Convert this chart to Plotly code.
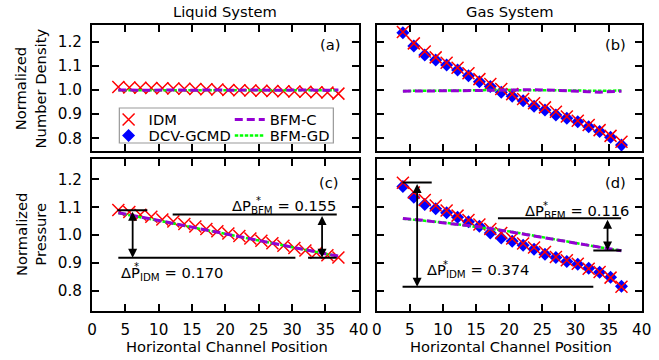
import plotly.graph_objects as go

# ---------------- data ----------------
x_pos = [3.95, 5.60, 7.25, 8.90, 10.55, 12.20, 13.85, 15.50, 17.15, 18.80, 20.45,
         22.10, 23.75, 25.40, 27.05, 28.70, 30.35, 32.00, 33.65, 35.30, 36.95]

# Liquid system – normalized number density
liq_dens_idm = [1.012, 1.010, 1.009, 1.008, 1.007, 1.006, 1.005, 1.004, 1.003, 1.002, 1.000,
                0.999, 0.998, 0.997, 0.996, 0.995, 0.994, 0.993, 0.991, 0.990, 0.985]
liq_dens_bfmc = [1.000, 0.999, 1.000, 0.999, 1.000, 0.999, 1.000, 0.999, 1.000, 0.999, 1.000,
                 0.999, 1.000, 0.999, 1.000, 0.999, 1.000, 0.999, 1.000, 0.999, 1.000]
liq_dens_bfmgd = [0.999, 0.999, 0.999, 0.999, 0.999, 0.999, 0.999, 0.999, 0.999, 0.999, 0.999,
                  0.999, 0.999, 0.999, 0.999, 0.999, 0.999, 0.999, 0.999, 0.999, 0.999]

# Gas system – normalized number density
gas_dens_idm = [1.240, 1.193, 1.159, 1.135, 1.113, 1.092, 1.069, 1.045, 1.025, 1.004, 0.983,
                0.963, 0.945, 0.928, 0.910, 0.890, 0.873, 0.855, 0.834, 0.810, 0.786]
gas_dens_dcv = [1.237, 1.182, 1.145, 1.124, 1.103, 1.083, 1.059, 1.034, 1.014, 0.991, 0.974,
                0.955, 0.933, 0.917, 0.896, 0.883, 0.869, 0.848, 0.828, 0.804, 0.772]
gas_dens_bfmc = [0.995, 0.995, 0.996, 0.996, 0.996, 0.997, 0.997, 0.998, 0.999, 1.000, 1.001,
                 1.002, 1.001, 1.000, 0.999, 0.998, 0.996, 0.993, 0.991, 0.993, 0.995]
gas_dens_bfmgd = [0.996, 0.996, 0.997, 0.997, 0.997, 0.998, 0.998, 0.999, 1.000, 1.000, 1.001,
                  1.001, 1.001, 1.000, 1.000, 0.999, 0.998, 0.997, 0.996, 0.997, 0.998]

# Liquid system – normalized pressure
liq_pres_idm = [1.090, 1.083, 1.073, 1.066, 1.056, 1.049, 1.040, 1.031, 1.022, 1.014, 1.006,
                0.997, 0.988, 0.980, 0.971, 0.962, 0.954, 0.945, 0.937, 0.928, 0.920]
liq_pres_bfmc = [1.080, 1.073, 1.065, 1.057, 1.050, 1.042, 1.034, 1.026, 1.018, 1.011, 1.003,
                 0.995, 0.987, 0.979, 0.971, 0.963, 0.956, 0.948, 0.940, 0.932, 0.925]
liq_pres_bfmgd = [1.079, 1.072, 1.065, 1.057, 1.049, 1.042, 1.034, 1.026, 1.018, 1.010, 1.003,
                  0.995, 0.987, 0.979, 0.971, 0.964, 0.956, 0.948, 0.940, 0.932, 0.924]

# Gas system – normalized pressure
gas_pres_idm = [1.188, 1.153, 1.126, 1.106, 1.088, 1.070, 1.054, 1.038, 1.022, 1.008, 0.988,
                0.970, 0.956, 0.940, 0.922, 0.910, 0.898, 0.880, 0.868, 0.848, 0.815]
gas_pres_dcv = [1.174, 1.136, 1.110, 1.095, 1.080, 1.064, 1.048, 1.032, 1.008, 0.990, 0.978,
                0.964, 0.950, 0.932, 0.920, 0.906, 0.896, 0.882, 0.867, 0.849, 0.817]
gas_pres_bfmc = [1.060, 1.057, 1.053, 1.047, 1.043, 1.039, 1.035, 1.030, 1.024, 1.018, 1.011,
                 1.004, 0.997, 0.991, 0.984, 0.977, 0.970, 0.963, 0.956, 0.950, 0.944]
gas_pres_bfmgd = [1.059, 1.056, 1.052, 1.048, 1.044, 1.039, 1.034, 1.029, 1.024, 1.018, 1.012,
                  1.005, 0.998, 0.991, 0.984, 0.977, 0.970, 0.963, 0.956, 0.950, 0.945]

# pressure-drop annotations
dp_liq_idm, dp_liq_bfm = 0.170, 0.155
dp_gas_idm, dp_gas_bfm = 0.374, 0.116

x_ticks = [0, 5, 10, 15, 20, 25, 30, 35, 40]
y_ticks = [0.8, 0.9, 1.0, 1.1, 1.2]

# ---------------- styling ----------------
W, H = 659, 360
FONT = "DejaVu Sans"
FS = 14.7
TFS = 15.2
RED, BLUE, PURPLE, GREEN = "#ff0000", "#0000ff", "#9400d3", "#00ff00"


def px(v):
    return v / W


def py(v):
    return 1 - v / H


fig = go.Figure()

panels = [
    ("x", "y", liq_dens_idm, None, liq_dens_bfmc, liq_dens_bfmgd),
    ("x2", "y2", gas_dens_idm, gas_dens_dcv, gas_dens_bfmc, gas_dens_bfmgd),
    ("x3", "y3", liq_pres_idm, None, liq_pres_bfmc, liq_pres_bfmgd),
    ("x4", "y4", gas_pres_idm, gas_pres_dcv, gas_pres_bfmc, gas_pres_bfmgd),
]

for i, (xa, ya, idm, dcv, bc, bg) in enumerate(panels):
    if dcv is not None:
        fig.add_trace(go.Scatter(x=x_pos, y=dcv, xaxis=xa, yaxis=ya, mode="markers", name="DCV-GCMD",
                                 marker=dict(symbol="diamond", size=10, color=BLUE, line=dict(width=0)),
                                 legend="legend2", showlegend=(i == 1)))
    fig.add_trace(go.Scatter(x=x_pos, y=idm, xaxis=xa, yaxis=ya, mode="markers", name="IDM",
                             marker=dict(symbol="x-thin", size=12, line=dict(color=RED, width=1.5)),
                             legend="legend", showlegend=(i == 0)))
    fig.add_trace(go.Scatter(x=x_pos, y=bg, xaxis=xa, yaxis=ya, mode="lines", name="BFM-GD",
                             line=dict(color=GREEN, width=2.5, dash="3.5px,1.5px"),
                             legend="legend4", showlegend=(i == 0)))
    fig.add_trace(go.Scatter(x=x_pos, y=bc, xaxis=xa, yaxis=ya, mode="lines", name="BFM-C",
                             line=dict(color=PURPLE, width=3, dash="8px,4px"),
                             legend="legend3", showlegend=(i == 0)))

dom_x_left = [px(89), px(362)]
dom_x_right = [px(380.4), px(651.5)]
dom_y_top = [py(151), py(25)]
dom_y_bot = [py(311), py(158.5)]

axis_common = dict(showline=True, linecolor="black", linewidth=2, mirror="ticks",
                   ticks="inside", ticklen=7, tickwidth=2, tickcolor="black",
                   showgrid=False, zeroline=False,
                   tickfont=dict(family=FONT, size=TFS, color="black"))

xa_common = dict(axis_common, range=[0, 40], tickvals=x_ticks, ticklabelstandoff=4)
ya_top = dict(axis_common, range=[0.7475, 1.269], tickvals=y_ticks,
              tickformat=".1f", ticklabelstandoff=5)
ya_bot = dict(axis_common, range=[0.7285, 1.2745], tickvals=y_ticks,
              tickformat=".1f", ticklabelstandoff=5)

fig.update_layout(
    width=W, height=H,
    margin=dict(l=0, r=0, t=0, b=0),
    paper_bgcolor="white", plot_bgcolor="white",
    font=dict(family=FONT, size=FS, color="black"),
    xaxis=dict(xa_common, domain=dom_x_left, anchor="y", showticklabels=False),
    yaxis=dict(ya_top, domain=dom_y_top, anchor="x"),
    xaxis2=dict(xa_common, domain=dom_x_right, anchor="y2", showticklabels=False),
    yaxis2=dict(ya_top, domain=dom_y_top, anchor="x2", showticklabels=False),
    xaxis3=dict(xa_common, domain=dom_x_left, anchor="y3"),
    yaxis3=dict(ya_bot, domain=dom_y_bot, anchor="x3"),
    xaxis4=dict(xa_common, domain=dom_x_right, anchor="y4"),
    yaxis4=dict(ya_bot, domain=dom_y_bot, anchor="x4", showticklabels=False),
)

# legends (one entry each, framed by a shared box)
leg_common = dict(bgcolor="rgba(0,0,0,0)", borderwidth=0, font=dict(family=FONT, size=FS),
                  xanchor="left", yanchor="middle", itemwidth=30)
fig.update_layout(
    legend=dict(leg_common, x=px(106), y=py(120)),
    legend2=dict(leg_common, x=px(106), y=py(136)),
    legend3=dict(leg_common, x=px(230), y=py(120)),
    legend4=dict(leg_common, x=px(230), y=py(136)),
)

shapes = [dict(type="rect", xref="paper", yref="paper", x0=px(117), x1=px(336), y0=py(143), y1=py(108),
               line=dict(color="#999999", width=1.2), fillcolor="white", layer="above")]


def hline(xr, yr, x0, x1, y):
    return dict(type="line", xref=xr, yref=yr, x0=x0, x1=x1, y0=y, y1=y,
                line=dict(color="black", width=2), layer="above")


liq_top_idm = liq_pres_idm[0] - 0.001
liq_bot = liq_top_idm - dp_liq_idm
liq_top_bfm = liq_bot + dp_liq_bfm
gas_top_idm = gas_pres_idm[0] + 0.001
gas_bot_idm = gas_top_idm - dp_gas_idm
gas_bot_bfm = 0.945
gas_top_bfm = gas_bot_bfm + dp_gas_bfm

shapes += [
    hline("x3", "y3", 3.8, 8.3, liq_top_idm),
    hline("x3", "y3", 3.95, 30.5, liq_bot),
    hline("x3", "y3", 12.1, 36.7, liq_top_bfm),
    hline("x3", "y3", 32.4, 36.7, liq_bot),
    hline("x4", "y4", 3.9, 8.3, gas_top_idm),
    hline("x4", "y4", 3.9, 32.7, gas_bot_idm),
    hline("x4", "y4", 18.3, 36.9, gas_top_bfm),
    hline("x4", "y4", 32.7, 36.9, gas_bot_bfm),
]
fig.update_layout(shapes=shapes)


def darrow(xr, yr, x, y0, y1):
    return dict(x=x, y=y1, ax=x, ay=y0, xref=xr, yref=yr, axref=xr, ayref=yr, text="",
                showarrow=True, arrowhead=2, startarrowhead=2, arrowside="end+start",
                arrowsize=1, startarrowsize=1, arrowwidth=1.8, arrowcolor="black")


def ptxt(text, x, y, xanchor="center", yanchor="middle", size=FS, angle=0):
    return dict(text=text, x=px(x), y=py(y), xref="paper", yref="paper", showarrow=False,
                xanchor=xanchor, yanchor=yanchor, textangle=angle,
                font=dict(family=FONT, size=size, color="black"))


ann = [
    darrow("x3", "y3", 6.1, liq_top_idm, liq_bot),
    darrow("x3", "y3", 34.5, liq_top_bfm, liq_bot),
    darrow("x4", "y4", 6.1, gas_top_idm, gas_bot_idm),
    darrow("x4", "y4", 34.85, gas_top_bfm, gas_bot_bfm),
    ptxt("Liquid System", 225.5, 12),
    ptxt("Gas System", 516, 12),
    ptxt("Horizontal Channel Position", 227.5, 346),
    ptxt("Horizontal Channel Position", 518, 346),
    ptxt("Normalized<br>Number Density", 26, 88, angle=-90),
    ptxt("Normalized<br>Pressure", 26, 234.5, angle=-90),
    ptxt("(a)", 345, 44, xanchor="right"),
    ptxt("(b)", 637, 44, xanchor="right"),
    ptxt("(c)", 344, 182, xanchor="right"),
    ptxt("(d)", 637, 182, xanchor="right"),
    ptxt(f"ΔP<sub>BFM</sub> = {dp_liq_bfm:.3f}", 341, 206, xanchor="right"),
    ptxt("*", 259.5, 200, size=10),
    ptxt(f"ΔP<sub>IDM</sub> = {dp_liq_idm:.3f}", 116.5, 273, xanchor="left"),
    ptxt("*", 135, 266, size=10),
    ptxt(f"ΔP<sub>BFM</sub> = {dp_gas_bfm:.3f}", 641, 211, xanchor="right"),
    ptxt("*", 553, 205, size=10),
    ptxt(f"ΔP<sub>IDM</sub> = {dp_gas_idm:.3f}", 430, 270, xanchor="left"),
    ptxt("*", 451, 264, size=10),
]
fig.update_layout(annotations=ann)

fig.write_html("out.html", config={"displayModeBar": False},
               post_script="document.body.style.margin='0';document.body.style.padding='0';")
